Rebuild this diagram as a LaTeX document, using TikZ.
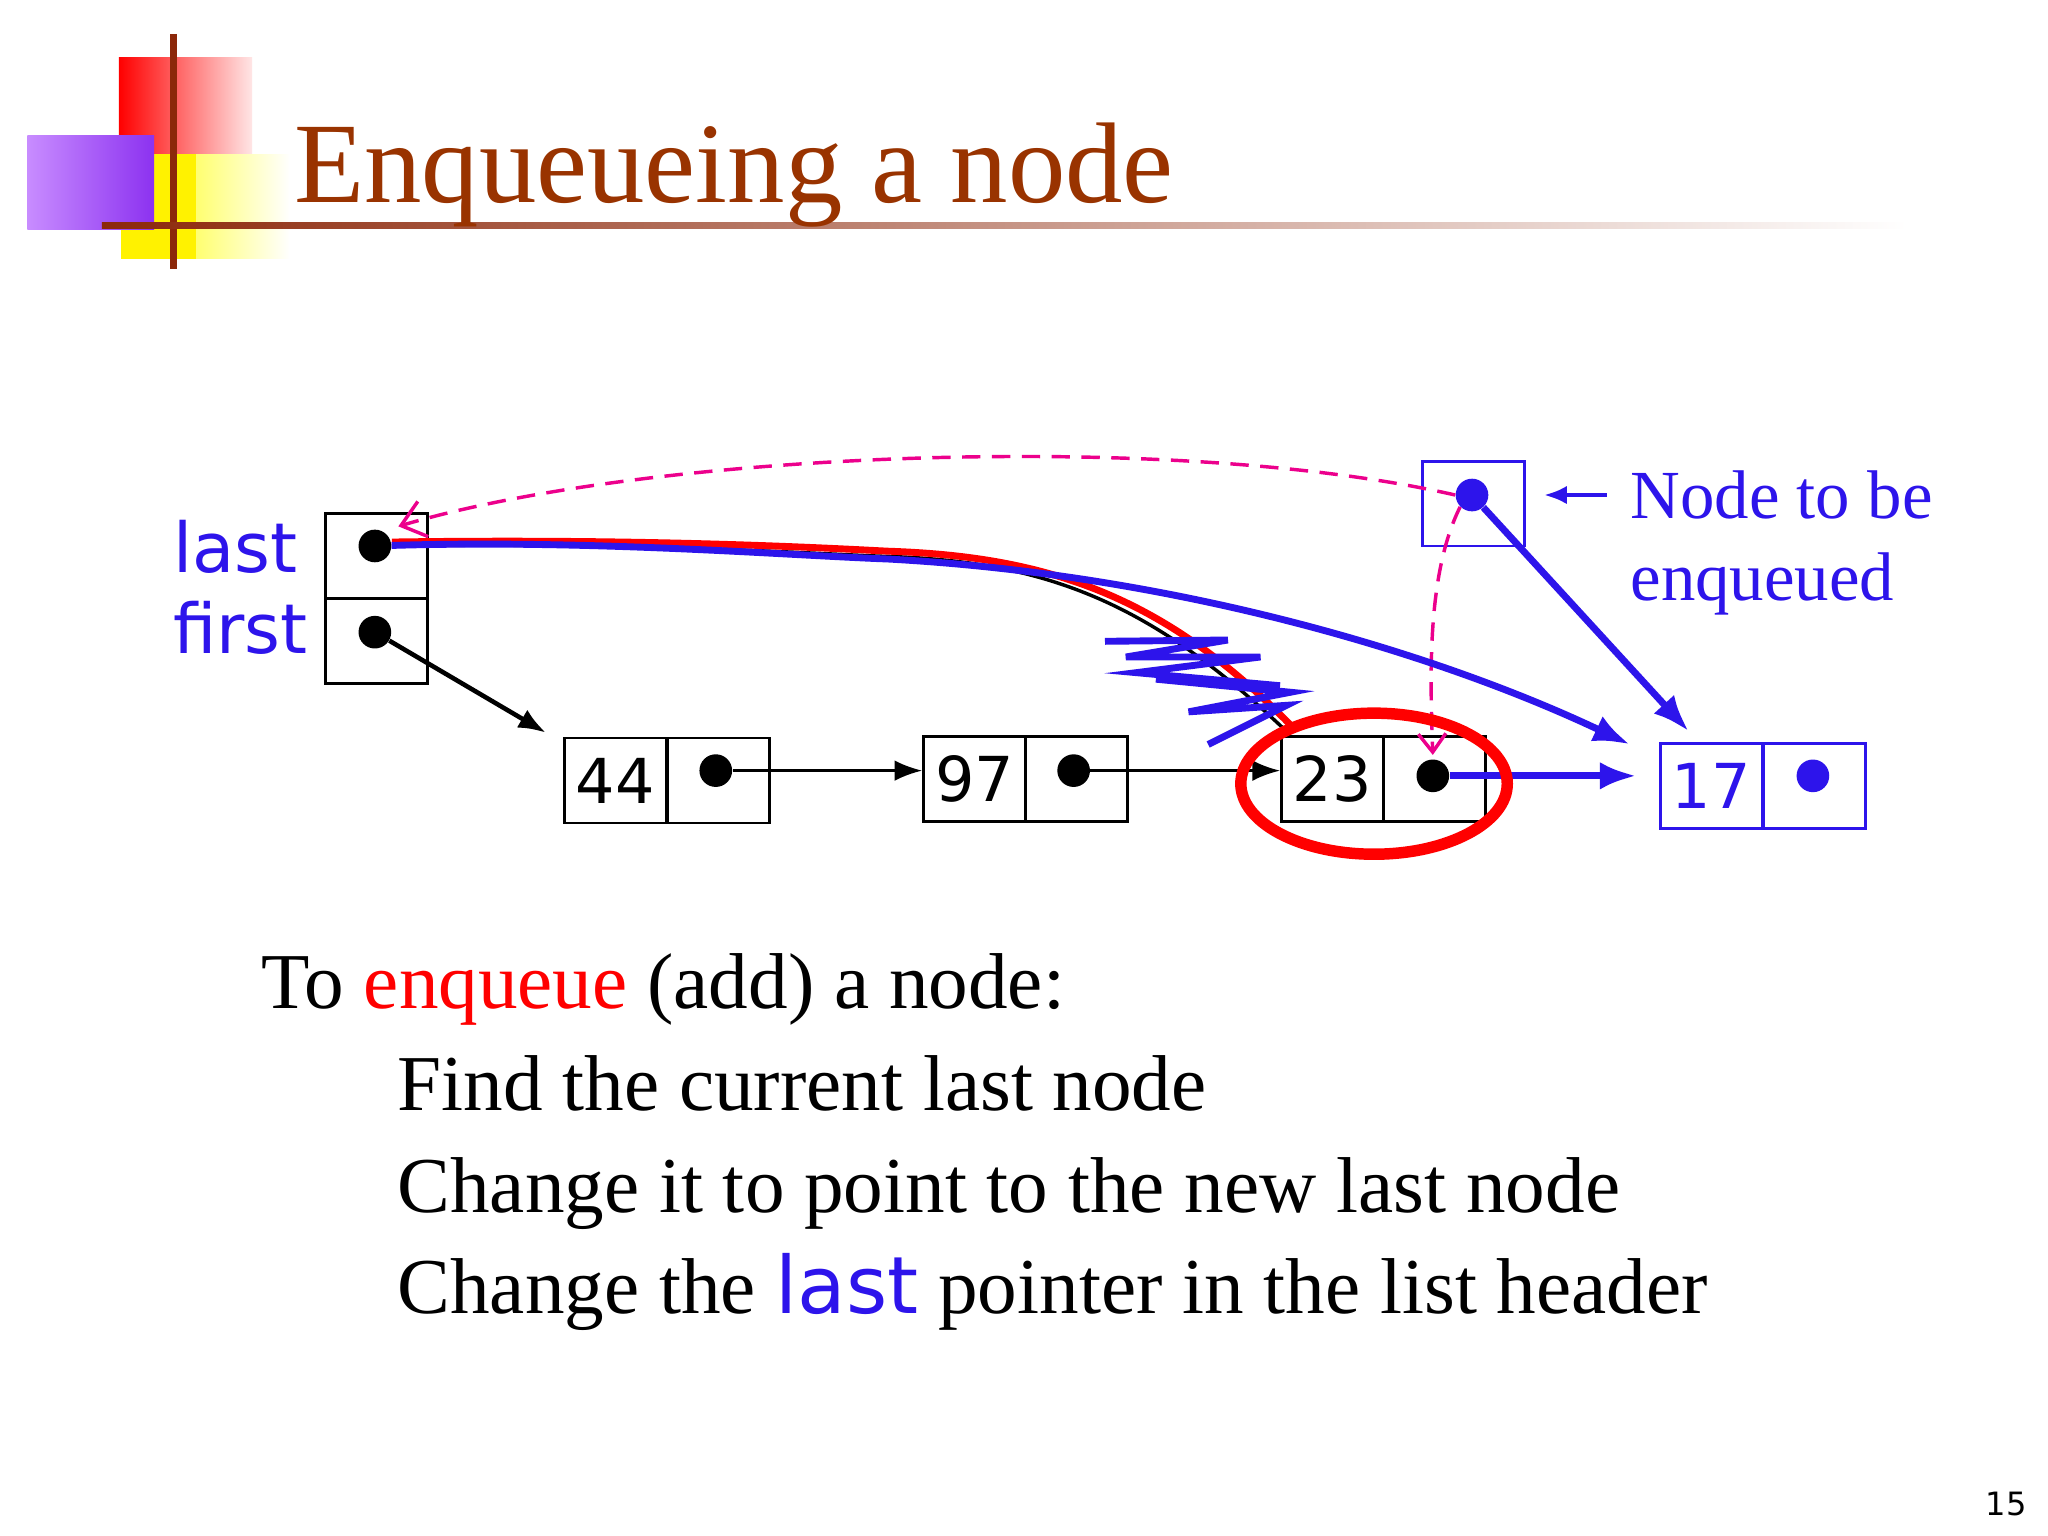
\documentclass[tikz,border=0pt]{standalone}
\usepackage{fontspec}
\setmainfont{Liberation Serif}
\newfontfamily\vsans{DejaVu Sans}
\usetikzlibrary{arrows.meta,shadings}
\definecolor{bl}{RGB}{45,20,235}
\begin{document}
\begin{tikzpicture}[x=0.02cm,y=-0.02cm,
  cell/.style={draw,line width=1.2pt,minimum width=78*0.02cm,minimum height=65*0.02cm,inner sep=0,anchor=north west},
  dotn/.style={circle,fill,inner sep=0,minimum size=25*0.02cm},
  num/.style={font=\vsans\fontsize{27}{30}\selectfont},
  mag/.style={magenta,line width=1.5pt,dash pattern=on 8pt off 5pt},
  body/.style={font=\fontsize{34.5}{40}\selectfont,anchor=base west,inner sep=0}]
\useasboundingbox[fill=white] (0,0) rectangle (1568,1176);
% decoration
\shade[left color=red,right color=red!10] (91,44) rectangle (193,118);
\shade[left color=yellow,right color=white] (93,118) rectangle (222,198);
\fill[yellow] (93,118) rectangle (150,198);
\shade[left color={rgb,255:red,200;green,140;blue,255},right color={rgb,255:red,140;green,50;blue,240}] (21,104) rectangle (118,176);
\draw[line width=3pt,color={rgb,255:red,140;green,40;blue,10}] (133,26) -- (133,206);
\shade[left color={rgb,255:red,140;green,40;blue,10},right color=white] (78,170) rectangle (1460,175);
\node[anchor=base west,inner sep=0,text={rgb,255:red,153;green,51;blue,0},font=\fontsize{50}{58}\selectfont] (title) at (225,155) {Enqueueing a node};
% header
\node[cell] (hl) at (248,392) {};
\node[cell] (hf) at (248,457) {};
\node[dotn] (dl) at (287,418) {};
\node[dotn] (df) at (287,484) {};
\node[anchor=base east,inner sep=0,text=bl,font=\vsans\fontsize{30}{34}\selectfont] (tl) at (228,438) {last};
\node[anchor=base east,inner sep=0,text=bl,font=\vsans\fontsize{30}{34}\selectfont] (tf) at (236,500) {first};
% nodes
\node[cell,num] (a1) at (431,564) {44}; \node[cell] (a2) at (510,564) {}; \node[dotn] (ad) at (548,590) {};
\node[cell,num] (b1) at (706,563) {97}; \node[cell] (b2) at (784,563) {}; \node[dotn] (bd) at (822,590) {};
\node[cell,num] (c1) at (980,563) {23}; \node[cell] (c2) at (1058,563) {}; \node[dotn] (cd) at (1097,594) {};
\node[cell,num,draw=bl,text=bl] (e1) at (1270,568) {17}; \node[cell,draw=bl] (e2) at (1349,568) {}; \node[dotn,bl] (ed) at (1388,594) {};
\node[cell,draw=bl] (n) at (1088,352) {}; \node[dotn,bl] (nd) at (1127,379) {};
\coordinate (fa) at (418,561);
\coordinate (la) at (1248,570);
\coordinate (ea) at (1293,560);
% magenta dashed
\draw[mag,-{Straight Barb[length=10pt,width=16pt]}] (nd.west) .. controls (900,330) and (500,345) .. (305,403);
\draw[mag,-{Straight Barb[length=8pt,width=12pt]}] (nd.south west) .. controls (1092,440) and (1095,520) .. (1097,578);
% red/black old pointer
\draw[black,line width=1.5pt] (300,418) .. controls (500,415) and (640,425) .. (680,426) .. controls (800,430) and (880,460) .. (985,560);
\draw[red,line width=3pt] (300,415) .. controls (500,412) and (640,420) .. (680,422) .. controls (800,426) and (890,455) .. (988,555);
% zigzag
\draw[bl,line width=3pt] (846,491) -- (940,490) -- (862,503) -- (965,503) -- (870,515) -- (980,525) -- (885,520) -- (988,530) -- (910,545) -- (985,540) -- (925,570);
% arrows
\draw[line width=2pt,-{Latex[length=12pt,width=9pt]}] (df) -- (fa);
\draw[line width=1.2pt,-{Latex[length=12pt,width=9pt]}] (ad) -- (ad -| b1.west);
\draw[line width=1.2pt,-{Latex[length=12pt,width=9pt]}] (bd) -- (bd -| c1.west);
\draw[bl,line width=3pt,-{Latex[length=16pt,width=12pt]}] (cd) -- (1253,594);
\draw[bl,line width=3pt,-{Latex[length=16pt,width=12pt]}] (nd) -- (ea);
\draw[bl,line width=3pt,-{Latex[length=16pt,width=12pt]}] (dl) .. controls (450,413) and (600,425) .. (680,428) .. controls (900,440) and (1100,500) .. (la);
\draw[red,line width=5pt] (1052,600) ellipse (102 and 54);
% labels
\coordinate (ar) at (1230,379);
\draw[bl,line width=2pt,-{Latex[length=10pt,width=8pt]}] (ar) -- (1182,379);
\node[anchor=base west,inner sep=0,text=bl,font=\fontsize{30}{36}\selectfont] (t1) at (1248,397) {Node to be};
\node[anchor=base west,inner sep=0,text=bl,font=\fontsize{30}{36}\selectfont] (t2) at (1248,460) {enqueued};
% body
\node[body] (l1) at (200,772) {To \textcolor{red}{enqueue} (add) a node:};
\node[body] (l2) at (304,850) {Find the current last node};
\node[body] (l3) at (304,928) {Change it to point to the new last node};
\node[body] (l4) at (304,1006) {Change the {\vsans\color{bl}last} pointer in the list header};
\node[anchor=base east,inner sep=0,font=\vsans\fontsize{14}{16}\selectfont] (pg) at (1552,1160) {15};
\end{tikzpicture}
\end{document}
